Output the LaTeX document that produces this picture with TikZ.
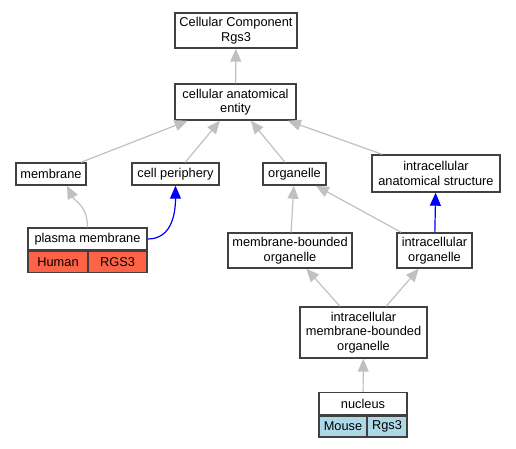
\documentclass[tikz,border=0pt]{standalone}
\usepackage{fontspec}
\setmainfont{Liberation Sans}
\usetikzlibrary{arrows.meta,calc}

\definecolor{edgegray}{HTML}{C0C0C0}
\definecolor{tomatored}{HTML}{FF6347}
\definecolor{mouseblue}{HTML}{ADD8E6}

\begin{document}
\begin{tikzpicture}[x=1pt,y=-1pt,
                    every node/.style={font=\fontsize{12.8}{14.5}\selectfont},
                    term/.style={draw=black!75,line width=1.4pt,fill=white,align=center,inner sep=2pt},
                    cell/.style={term,minimum height=21pt},
                    isa/.style={draw=edgegray,line width=1.2pt,-{Triangle[length=13pt,width=11pt,fill=edgegray]}},
                    partof/.style={draw=blue,line width=1.2pt,-{Triangle[length=13pt,width=11pt,fill=blue]}}
]
\useasboundingbox (0,0) rectangle (516,448);

\node [term, minimum width=122pt, minimum height=35pt] at (236,30.5) (root) {Cellular Component\\Rgs3};
\node [term, minimum width=121pt, minimum height=36pt] at (235.5,102) (cae) {cellular anatomical\\entity};
\node [term, minimum width=70pt, minimum height=22pt] at (51,174) (mem) {membrane};
\node [term, minimum width=87pt, minimum height=22pt] at (175.5,174) (cp) {cell periphery};
\node [term, minimum width=63pt, minimum height=22pt] at (294.5,174) (org) {organelle};
\node [term, minimum width=128pt, minimum height=37pt] at (436,173.5) (ias) {intracellular\\anatomical structure};
\node [term, minimum width=124pt, minimum height=35pt] at (290,250.5) (mbo) {membrane-bounded\\organelle};
\node [term, minimum width=75pt, minimum height=35pt] at (434.5,250.5) (io) {intracellular\\organelle};
\node [term, minimum width=127pt, minimum height=51pt] at (363.5,332.5) (imbo) {intracellular\\membrane-bounded\\organelle};
%
\node [term, minimum width=119pt, minimum height=22pt] at (87.5,239) (pm) {plasma membrane};
\node [cell, fill=tomatored, minimum width=60pt, anchor=north west] at (pm.south west) (pmorg) {Human};
\node [cell, fill=tomatored, minimum width=59pt, anchor=north east] at (pm.south east) (pmgene) {RGS3};
\node [term, minimum width=88pt, minimum height=22pt] at (363,403.5) (nuc) {nucleus};
\node [cell, fill=mouseblue, minimum width=48pt, anchor=north west] at (nuc.south west) (nucorg) {Mouse};
\node [cell, fill=mouseblue, minimum width=40pt, anchor=north east] at (nuc.south east) (nucgene) {Rgs3};

\draw [isa] (cae) -- (root);
\draw [isa] (mem) -- (cae);
\draw [isa] (cp) -- (cae);
\draw [isa] (org) -- (cae);
\draw [isa] (ias) -- (cae);
\draw [isa] (pm.north) .. controls +(0,-22) and +(8,16) .. ($(mem.south)+(16,0)$);
\draw [partof] (pm.east) .. controls +(24,0) and +(0,28) .. (cp.south);
\draw [isa] (mbo) -- (org);
\draw [isa] (io) -- (org);
\draw [partof] (io) -- (ias);
\draw [isa] (imbo) -- (mbo);
\draw [isa] (imbo) -- (io);
\draw [isa] (nuc) -- (imbo);

\end{tikzpicture}
\end{document}
